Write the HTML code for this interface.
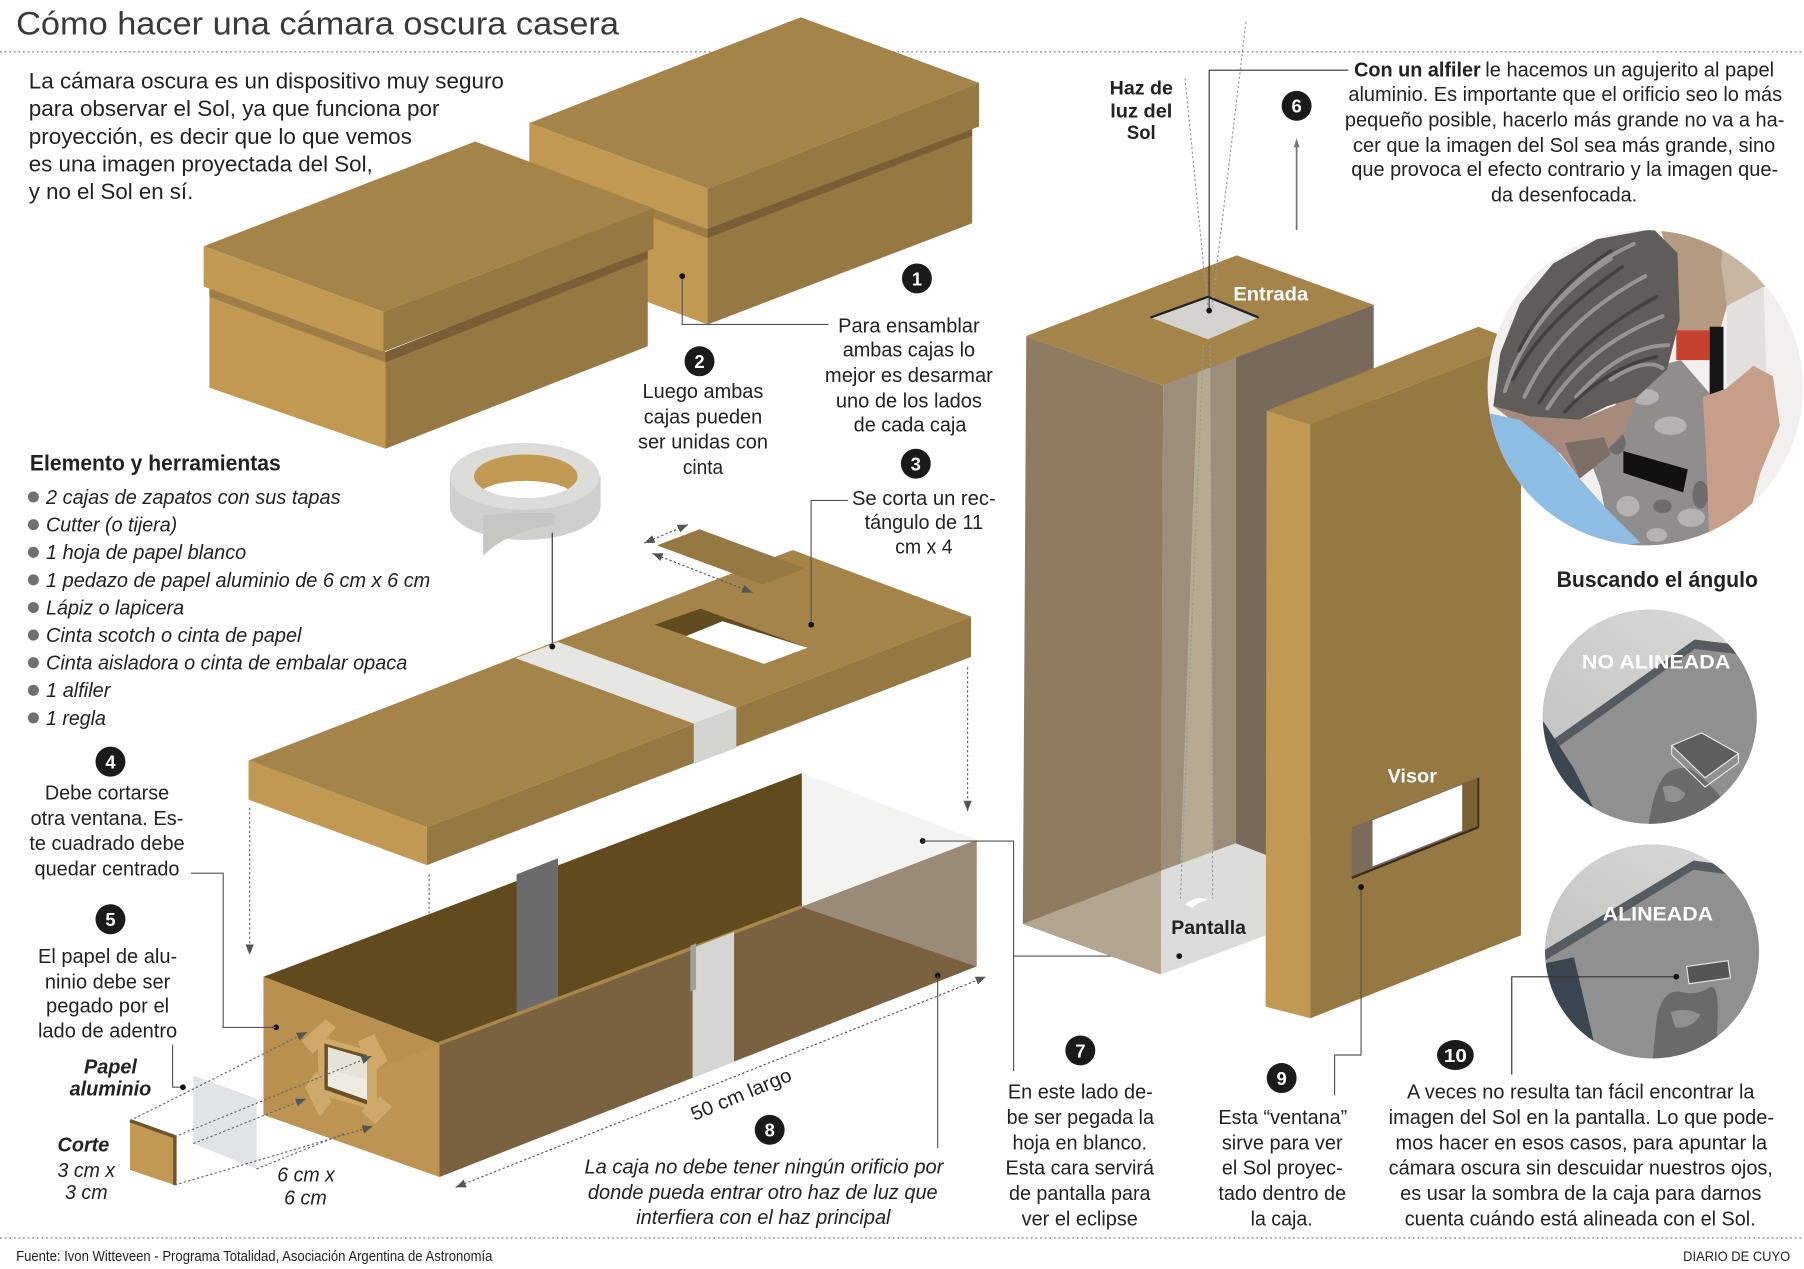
<!DOCTYPE html>
<html><head><meta charset="utf-8">
<style>
html,body{margin:0;padding:0;background:#fff;}
svg{display:block;}
text{font-family:"Liberation Sans",Arial,sans-serif;}
</style></head><body>
<svg width="1804" height="1269" viewBox="0 0 1568 1103" xmlns="http://www.w3.org/2000/svg">
<defs>
<marker id="ar" viewBox="0 0 10 10" refX="10" refY="5" markerWidth="9" markerHeight="9" markerUnits="userSpaceOnUse" orient="auto-start-reverse"><path d="M0,1 L10,5 L0,9 z" fill="#555"/></marker>
<clipPath id="cp1"><circle cx="1430" cy="337" r="137"/></clipPath>
<clipPath id="cp2"><circle cx="1434" cy="623" r="93"/></clipPath>
<clipPath id="cp3"><circle cx="1436" cy="827" r="93"/></clipPath>
<clipPath id="hole"><ellipse cx="457" cy="414" rx="45" ry="19"/></clipPath>
<linearGradient id="wall" x1="0" y1="1" x2="1" y2="0"><stop offset="0" stop-color="#c2c2c0"/><stop offset="1" stop-color="#dcdcda"/></linearGradient>
</defs>
<rect width="1568" height="1103" fill="#fff"/>

<!-- Title -->
<text x="14" y="30" font-size="28" fill="#3a3a3a" textLength="524" lengthAdjust="spacingAndGlyphs">Cómo hacer una cámara oscura casera</text>
<line x1="0" y1="45" x2="1568" y2="45" stroke="#888" stroke-width="1.2" stroke-dasharray="1.5,2.5"/>

<!-- Intro -->
<g font-size="19" fill="#222">
<text x="25" y="77" textLength="413" lengthAdjust="spacingAndGlyphs">La cámara oscura es un dispositivo muy seguro</text>
<text x="25" y="101" textLength="357" lengthAdjust="spacingAndGlyphs">para observar el Sol, ya que funciona por</text>
<text x="25" y="125" textLength="333" lengthAdjust="spacingAndGlyphs">proyección, es decir que lo que vemos</text>
<text x="25" y="149" textLength="299" lengthAdjust="spacingAndGlyphs">es una imagen proyectada del Sol,</text>
<text x="25" y="173" textLength="143" lengthAdjust="spacingAndGlyphs">y no el Sol en sí.</text>
</g>

<!-- Box 2 (back) -->
<polygon points="463,142 615,199 615,282 463,225" fill="#c29952"/>
<polygon points="463,142 615,199 615,207 463,150" fill="#a07d46"/>
<polygon points="615,199 845,110 845,194 615,282" fill="#967842"/>
<polygon points="615,198 845,110 845,118 615,207" fill="#7a5e36"/>
<polygon points="460,107 696,15 851,72 615,164" fill="#a5844a"/>
<polygon points="460,107 615,164 615,199 460,142" fill="#c29952"/>
<polygon points="615,164 851,72 851,110 615,199" fill="#967842"/>

<!-- Box 1 (front) -->
<polygon points="182,249 335,306 335,390 182,337" fill="#c29952"/>
<polygon points="182,249 335,306 335,315 182,258" fill="#a07d46"/>
<polygon points="335,306 563,216 563,301 335,390" fill="#967842"/>
<polygon points="335,306 563,216 563,225 335,315" fill="#7a5e36"/>
<polygon points="177,214 413,123 568,181 333,271" fill="#a5844a"/>
<polygon points="177,214 333,271 333,306 177,249" fill="#c29952"/>
<polygon points="333,271 568,181 568,216 333,306" fill="#967842"/>

<!-- leader 1/2 -->
<polyline points="593,240 593,282 720,282" fill="none" stroke="#555" stroke-width="1"/>
<circle cx="593" cy="240" r="2.5" fill="#111"/>

<!-- numbers -->
<g font-size="16" font-weight="bold" fill="#fff" text-anchor="middle">
<circle cx="797" cy="242" r="13" fill="#1a1a1a"/><text x="797" y="248">1</text>
<circle cx="608" cy="314" r="13" fill="#1a1a1a"/><text x="608" y="320">2</text>
<circle cx="796" cy="403" r="13" fill="#1a1a1a"/><text x="796" y="409">3</text>
<circle cx="96" cy="662" r="13" fill="#1a1a1a"/><text x="96" y="668">4</text>
<circle cx="96" cy="799" r="13" fill="#1a1a1a"/><text x="96" y="805">5</text>
<circle cx="1127" cy="92" r="13" fill="#1a1a1a"/><text x="1127" y="98">6</text>
<circle cx="939" cy="913" r="13" fill="#1a1a1a"/><text x="939" y="919">7</text>
<circle cx="669" cy="982" r="13" fill="#1a1a1a"/><text x="669" y="988">8</text>
<circle cx="1114" cy="937" r="13" fill="#1a1a1a"/><text x="1114" y="943">9</text>
<ellipse cx="1265" cy="917" rx="16" ry="13" fill="#1a1a1a"/><text x="1265" y="923" textLength="20" lengthAdjust="spacingAndGlyphs">10</text>
</g>

<!-- Text blocks 1,2,3 -->
<g font-size="17.5" fill="#222" text-anchor="middle">
<text x="790" y="289" textLength="123" lengthAdjust="spacingAndGlyphs">Para ensamblar</text>
<text x="790" y="310" textLength="115" lengthAdjust="spacingAndGlyphs">ambas cajas lo</text>
<text x="790" y="332" textLength="146" lengthAdjust="spacingAndGlyphs">mejor es desarmar</text>
<text x="790" y="354" textLength="127" lengthAdjust="spacingAndGlyphs">uno de los lados</text>
<text x="791" y="375" textLength="98" lengthAdjust="spacingAndGlyphs">de cada caja</text>
<text x="611" y="346" textLength="105" lengthAdjust="spacingAndGlyphs">Luego ambas</text>
<text x="611" y="368" textLength="103" lengthAdjust="spacingAndGlyphs">cajas pueden</text>
<text x="611" y="390" textLength="113" lengthAdjust="spacingAndGlyphs">ser unidas con</text>
<text x="611" y="412" textLength="35" lengthAdjust="spacingAndGlyphs">cinta</text>
<text x="803" y="439" textLength="125" lengthAdjust="spacingAndGlyphs">Se corta un rec-</text>
<text x="803" y="460" textLength="103" lengthAdjust="spacingAndGlyphs">tángulo de 11</text>
<text x="803" y="481" textLength="50" lengthAdjust="spacingAndGlyphs">cm x 4</text>
</g>

<!-- List -->
<text x="26" y="409" font-size="19" font-weight="bold" fill="#222" textLength="218" lengthAdjust="spacingAndGlyphs">Elemento y herramientas</text>
<g fill="#707070">
<circle cx="29" cy="432" r="4.8"/><circle cx="29" cy="456" r="4.8"/><circle cx="29" cy="480" r="4.8"/>
<circle cx="29" cy="504" r="4.8"/><circle cx="29" cy="528" r="4.8"/><circle cx="29" cy="552" r="4.8"/>
<circle cx="29" cy="576" r="4.8"/><circle cx="29" cy="600" r="4.8"/><circle cx="29" cy="624" r="4.8"/>
</g>
<g font-size="17.5" font-style="italic" fill="#222">
<text x="40" y="438" textLength="256" lengthAdjust="spacingAndGlyphs">2 cajas de zapatos con sus tapas</text>
<text x="40" y="462" textLength="114" lengthAdjust="spacingAndGlyphs">Cutter (o tijera)</text>
<text x="40" y="486" textLength="174" lengthAdjust="spacingAndGlyphs">1 hoja de papel blanco</text>
<text x="40" y="510" textLength="334" lengthAdjust="spacingAndGlyphs">1 pedazo de papel aluminio de 6 cm x 6 cm</text>
<text x="40" y="534" textLength="120" lengthAdjust="spacingAndGlyphs">Lápiz o lapicera</text>
<text x="40" y="558" textLength="222" lengthAdjust="spacingAndGlyphs">Cinta scotch o cinta de papel</text>
<text x="40" y="582" textLength="314" lengthAdjust="spacingAndGlyphs">Cinta aisladora o cinta de embalar opaca</text>
<text x="40" y="606" textLength="56" lengthAdjust="spacingAndGlyphs">1 alfiler</text>
<text x="40" y="630" textLength="52" lengthAdjust="spacingAndGlyphs">1 regla</text>
</g>

<!-- Tape roll -->
<path d="M391,414 L391,440 A65,29 0 0 0 522,440 L522,414 Z" fill="#cfcfcb"/>
<path d="M420,448 L420,483 Q440,462 482,456 L482,446 Q445,445 420,448 Z" fill="#c6c6c2"/>
<ellipse cx="456" cy="414" rx="65" ry="29" fill="#dcdcd9"/>
<ellipse cx="457" cy="414" rx="45" ry="19" fill="#c29952"/>
<g clip-path="url(#hole)"><ellipse cx="457" cy="430" rx="40" ry="12" fill="#fff"/></g>
<line x1="480" y1="463" x2="480" y2="562" stroke="#333" stroke-width="1"/>

<!-- Lid (flat) -->
<polygon points="216,661 689,478 844,536 371,719" fill="#a5844a"/>
<polygon points="216,661 371,719 371,752 216,695" fill="#c29952"/>
<polygon points="371,719 844,536 844,571 371,752" fill="#967842"/>
<polygon points="448,572 485,558 640,615 603,629" fill="#e6e6e3"/>
<polygon points="603,629 640,615 640,650 603,664" fill="#d3d3cf"/>
<polygon points="569,543 609,529 702,563 663,576" fill="#624b1e"/>
<polygon points="596,553 628,540 702,563 664,577" fill="#fff"/>
<polygon points="571,474 608,460 700,494 663,508" fill="#967842"/>
<circle cx="480" cy="562" r="2.5" fill="#111"/>
<!-- cut arrows -->
<line x1="560" y1="472" x2="598" y2="456" stroke="#555" stroke-width="1" stroke-dasharray="2,2" marker-start="url(#ar)" marker-end="url(#ar)"/>
<line x1="567" y1="481" x2="654" y2="515" stroke="#555" stroke-width="1" stroke-dasharray="2,2" marker-start="url(#ar)" marker-end="url(#ar)"/>
<!-- leader 3 -->
<polyline points="737,435 705,435 705,543" fill="none" stroke="#555" stroke-width="1"/>
<circle cx="705" cy="543" r="2.5" fill="#111"/>

<!-- vertical dotted arrows -->
<g stroke="#666" stroke-width="1" stroke-dasharray="2,2">
<line x1="217" y1="702" x2="217" y2="830" marker-end="url(#ar)"/>
<line x1="373" y1="760" x2="373" y2="886" marker-end="url(#ar)"/>
<line x1="841" y1="580" x2="841" y2="705" marker-end="url(#ar)"/>
</g>

<!-- Open box -->
<polygon points="229,849 697,672 697,788 382,907" fill="#614a1d"/>
<polygon points="449,760 485,746 485,868 449,882" fill="#6b6b6b"/>
<polygon points="697,672 849,730 697,788" fill="#f3f3ef"/>
<polygon points="697,788 849,730 849,840" fill="#9a8b78"/>
<polygon points="382,907 697,788 849,840 382,1023" fill="#7a6240"/>
<line x1="382" y1="907" x2="697" y2="788" stroke="#a8874a" stroke-width="3"/>
<polygon points="602,824 638,810 638,923 602,937" fill="#d5d5d1"/>
<polygon points="600,822 605,820 605,860 600,862" fill="#a09e98"/>
<polygon points="229,849 382,907 382,1023 229,969" fill="#bd9451"/>
<polygon points="229,849 382,907 229,969" fill="#b68d4d" opacity="0.6"/>
<g fill="#d3ad6f" opacity="0.85">
<polygon points="276,900 327,915 328,966 277,951"/>
<polygon points="262,905 283,886 292,893 272,916"/>
<polygon points="311,905 325,899 337,922 322,934"/>
<polygon points="265,945 275,931 288,958 278,971"/>
<polygon points="314,966 330,953 341,962 326,977"/>
</g>
<polygon points="282,907 319,917 319,960 282,947" fill="#6b5226"/>
<polygon points="285,910 319,920 319,956 285,944" fill="#e6e2d8"/>
<polygon points="285,930 319,938 319,956 285,944" fill="#eeebe3"/>
<circle cx="240" cy="893" r="2.5" fill="#111"/>
<circle cx="802" cy="731" r="2.5" fill="#111"/>
<circle cx="815" cy="848" r="2.5" fill="#111"/>
<line x1="815" y1="848" x2="815" y2="998" stroke="#555" stroke-width="1"/>
<polyline points="802,731 881,731 881,931" fill="none" stroke="#555" stroke-width="1"/>
<line x1="881" y1="831" x2="1025" y2="831" stroke="#555" stroke-width="1"/>

<!-- 50 cm -->
<line x1="396" y1="1032" x2="857" y2="849" stroke="#555" stroke-width="1" stroke-dasharray="2,2" marker-start="url(#ar)" marker-end="url(#ar)"/>
<text x="644" y="957" font-size="17" fill="#222" text-anchor="middle" transform="rotate(-22.5 644 951)" textLength="93" lengthAdjust="spacingAndGlyphs">50 cm largo</text>

<!-- leaders 4, 5 -->
<polyline points="166,759 194,759 194,893 240,893" fill="none" stroke="#555" stroke-width="1"/>
<polyline points="150,908 150,945 159,945" fill="none" stroke="#555" stroke-width="1"/>
<circle cx="159" cy="945" r="2.5" fill="#111"/>

<!-- Corte & aluminio -->
<polygon points="168,935 223,955 223,1016 168,994" fill="#dfe4e4"/>
<polygon points="113,974 152,988 152,1030 113,1017" fill="#c29952"/>
<polyline points="113,974 152,988 152,1030" fill="none" stroke="#6e5330" stroke-width="3"/>
<g stroke="#666" stroke-width="1" stroke-dasharray="2,2" fill="none">
<line x1="113" y1="974" x2="267" y2="897" marker-end="url(#ar)"/>
<line x1="152" y1="988" x2="323" y2="918" marker-end="url(#ar)"/>
<line x1="152" y1="1030" x2="324" y2="979" marker-end="url(#ar)"/>
<line x1="168" y1="994" x2="266" y2="955" marker-end="url(#ar)"/>
<line x1="223" y1="1016" x2="300" y2="985"/>
</g>

<!-- Text 4, 5 -->
<g font-size="17.5" fill="#222" text-anchor="middle">
<text x="93" y="695" textLength="108" lengthAdjust="spacingAndGlyphs">Debe cortarse</text>
<text x="93" y="717" textLength="133" lengthAdjust="spacingAndGlyphs">otra ventana. Es-</text>
<text x="93" y="739" textLength="135" lengthAdjust="spacingAndGlyphs">te cuadrado debe</text>
<text x="93" y="761" textLength="126" lengthAdjust="spacingAndGlyphs">quedar centrado</text>
<text x="93.5" y="837" textLength="121" lengthAdjust="spacingAndGlyphs">El papel de alu-</text>
<text x="93.5" y="859" textLength="109" lengthAdjust="spacingAndGlyphs">ninio debe ser</text>
<text x="93.5" y="880" textLength="107" lengthAdjust="spacingAndGlyphs">pegado por el</text>
<text x="93.5" y="902" textLength="121" lengthAdjust="spacingAndGlyphs">lado de adentro</text>
</g>
<g font-size="17.5" fill="#222" text-anchor="middle" font-style="italic">
<text x="96" y="933" font-weight="bold" textLength="46" lengthAdjust="spacingAndGlyphs">Papel</text>
<text x="96" y="952" font-weight="bold" textLength="71" lengthAdjust="spacingAndGlyphs">aluminio</text>
<text x="72.5" y="1001" font-weight="bold" textLength="45" lengthAdjust="spacingAndGlyphs">Corte</text>
<text x="75" y="1023" textLength="50" lengthAdjust="spacingAndGlyphs">3 cm x</text>
<text x="75" y="1042" textLength="37" lengthAdjust="spacingAndGlyphs">3 cm</text>
<text x="266" y="1027" textLength="50" lengthAdjust="spacingAndGlyphs">6 cm x</text>
<text x="265.5" y="1047" textLength="37" lengthAdjust="spacingAndGlyphs">6 cm</text>
<text x="664" y="1020" textLength="312" lengthAdjust="spacingAndGlyphs">La caja no debe tener ningún orificio por</text>
<text x="663" y="1042" textLength="304" lengthAdjust="spacingAndGlyphs">donde pueda entrar otro haz de luz que</text>
<text x="663.5" y="1064" textLength="221" lengthAdjust="spacingAndGlyphs">interfiera con el haz principal</text>
</g>

<!-- Tall box -->
<polygon points="892,292 1011,335 1009,847 889,803" fill="#8f7c60"/>
<polygon points="1074,310 1194,265 1194,700 1100,743 1074,733" fill="#786a5b"/>
<polygon points="1011,335 1074,310 1074,733 1009,757" fill="#9c8e7a"/>
<polygon points="1041,323 1052,318 1055,781 1025,781" fill="#b6aa93"/>
<polygon points="889,803 1009,757 1009,847" fill="#b3a690"/>
<polygon points="1009,757 1074,733 1100,743 1100,813 1009,847" fill="#dcdcda"/>
<path d="M1030,786 Q1040,778 1050,782 Q1042,784 1036,789 Z" fill="#fff"/>
<polygon points="892,292 1075,222 1194,265 1011,335" fill="#a5844a"/>
<polygon points="1000,276 1050,258 1094,276 1050,295" fill="#d3d2ce"/>
<polyline points="1000,276 1050,258 1094,276" fill="none" stroke="#222" stroke-width="2"/>
<g stroke="#999" stroke-width="1" stroke-dasharray="2,2" fill="none">
<line x1="1030" y1="68" x2="1050" y2="270"/>
<line x1="1083" y1="19" x2="1053" y2="270"/>
<line x1="1046" y1="300" x2="1026" y2="781"/>
<line x1="1052" y1="300" x2="1054" y2="781"/>
</g>
<text x="1104.5" y="261" font-size="17" font-weight="bold" fill="#fff" text-anchor="middle" textLength="65" lengthAdjust="spacingAndGlyphs">Entrada</text>
<text x="1050.5" y="812" font-size="17" font-weight="bold" fill="#222" text-anchor="middle" textLength="65" lengthAdjust="spacingAndGlyphs">Pantalla</text>
<circle cx="1025" cy="831" r="2.5" fill="#111"/>
<!-- leader 6 -->
<polyline points="1051,270 1051,61 1172,61" fill="none" stroke="#333" stroke-width="1"/>
<circle cx="1051" cy="270" r="2.5" fill="#111"/>
<!-- pin -->
<line x1="1127" y1="126" x2="1127" y2="200" stroke="#777" stroke-width="1.5"/>
<polygon points="1124.5,128 1127,120 1129.5,128" fill="#777"/>

<!-- Visor panel -->
<polygon points="1101,357 1139,369 1139,885 1100,875" fill="#c29952"/>
<polygon points="1139,369 1322,298 1322,813 1139,885" fill="#967842"/>
<polygon points="1101,357 1285,284 1322,298 1139,369" fill="#a5844a"/>
<polygon points="1175,719 1285,676 1285,719 1175,763" fill="#7b6b5a"/>
<polygon points="1193,713 1271,682 1271,722 1193,753" fill="#fff"/>
<polygon points="1271,681 1285,676 1285,719 1271,723" fill="#7a6032"/>
<line x1="1175" y1="763" x2="1285" y2="719" stroke="#3a2e1a" stroke-width="2"/>
<line x1="1285" y1="676" x2="1285" y2="719" stroke="#3a2e1a" stroke-width="1.5"/>
<text x="1227.5" y="680" font-size="17" font-weight="bold" fill="#fff" text-anchor="middle" textLength="43" lengthAdjust="spacingAndGlyphs">Visor</text>
<polyline points="1183,771 1183,917 1160,917 1160,952" fill="none" stroke="#555" stroke-width="1"/>
<circle cx="1183" cy="771" r="2.5" fill="#111"/>

<!-- Haz de luz -->
<g font-size="17" font-weight="bold" fill="#222" text-anchor="middle">
<text x="992" y="82" textLength="55" lengthAdjust="spacingAndGlyphs">Haz de</text>
<text x="992" y="102" textLength="54" lengthAdjust="spacingAndGlyphs">luz del</text>
<text x="992" y="121" textLength="25" lengthAdjust="spacingAndGlyphs">Sol</text>
</g>

<!-- Text 6 -->
<g font-size="17.5" fill="#222">
<text x="1177" y="66.5" font-weight="bold" textLength="110" lengthAdjust="spacingAndGlyphs">Con un alfiler</text>
<text x="1291" y="66.5" textLength="251" lengthAdjust="spacingAndGlyphs">le hacemos un agujerito al papel</text>
<g text-anchor="middle">
<text x="1360.5" y="88" textLength="377" lengthAdjust="spacingAndGlyphs">aluminio. Es importante que el orificio seo lo más</text>
<text x="1360" y="110" textLength="382" lengthAdjust="spacingAndGlyphs">pequeño posible, hacerlo más grande no va a ha-</text>
<text x="1359.5" y="132" textLength="367" lengthAdjust="spacingAndGlyphs">cer que la imagen del Sol sea más grande, sino</text>
<text x="1360" y="153" textLength="371" lengthAdjust="spacingAndGlyphs">que provoca el efecto contrario y la imagen que-</text>
<text x="1359.5" y="175" textLength="127" lengthAdjust="spacingAndGlyphs">da desenfocada.</text>
</g>
</g>

<!-- Photo man -->
<g clip-path="url(#cp1)">
<rect x="1290" y="195" width="280" height="285" fill="#f1f0ee"/>
<polygon points="1443,198 1500,206 1534,249 1501,266 1495,287 1458,287 1455,235" fill="#b39a80"/>
<polygon points="1498,206 1534,249 1501,266 1496,230" fill="#c9b6a1"/>
<polygon points="1501,266 1533,249 1536,353 1501,365" fill="#e2e0dd"/>
<polygon points="1417,324 1461,313 1486,342 1490,478 1402,478 1391,423 1382,400" fill="#8f8e8c"/>
<g fill="#b4b3b1">
<ellipse cx="1430" cy="345" rx="12" ry="7"/><ellipse cx="1452" cy="370" rx="14" ry="8"/>
<ellipse cx="1415" cy="440" rx="10" ry="9"/><ellipse cx="1470" cy="450" rx="12" ry="8"/>
<ellipse cx="1440" cy="465" rx="9" ry="6"/>
</g>
<g fill="#6d6c6a">
<ellipse cx="1405" cy="385" rx="8" ry="10"/><ellipse cx="1478" cy="430" rx="7" ry="12"/>
<ellipse cx="1445" cy="440" rx="8" ry="6"/>
</g>
<rect x="1457" y="287" width="29" height="26" fill="#c8412f"/>
<rect x="1486" y="284" width="12" height="64" fill="#161616"/>
<polygon points="1298,353 1330,362 1373,365 1397,355 1423,345 1411,377 1394,394 1373,416 1356,394 1330,377" fill="#a88a7c"/>
<polygon points="1360,385 1394,380 1400,395 1373,416" fill="#7d6e66"/>
<polygon points="1298,353 1304,307 1321,264 1350,229 1388,208 1437,199 1458,220 1460,278 1449,321 1423,345 1397,353 1373,365 1330,362" fill="#5f5c59"/>
<g fill="none" stroke-linecap="round">
<g stroke="#a9a6a3" stroke-width="3.5" opacity="0.75">
<path d="M1308,340 Q1330,270 1400,225"/>
<path d="M1325,345 Q1355,280 1430,240"/>
<path d="M1345,355 Q1380,300 1445,275"/>
<path d="M1370,345 Q1410,300 1450,300"/>
<path d="M1330,290 Q1360,240 1420,212"/>
<path d="M1400,330 Q1430,310 1445,320"/>
</g>
<g stroke="#3d3a38" stroke-width="3" opacity="0.8">
<path d="M1315,330 Q1340,280 1410,232"/>
<path d="M1338,350 Q1370,295 1440,258"/>
<path d="M1360,358 Q1395,320 1440,310"/>
<path d="M1320,305 Q1345,255 1400,218"/>
</g>
</g>
<polygon points="1293,359 1321,365 1350,388 1373,416 1397,443 1426,472 1344,480 1310,437 1290,400" fill="#8dbde3"/>
<polygon points="1480,345 1500,338 1524,318 1541,327 1547,370 1530,411 1512,480 1486,480 1483,394" fill="#c79f88"/>
<polygon points="1411,392 1467,408 1463,428 1411,411" fill="#111"/>
</g>

<!-- Buscando el angulo -->
<text x="1440.5" y="510" font-size="19" font-weight="bold" fill="#222" text-anchor="middle" textLength="175" lengthAdjust="spacingAndGlyphs">Buscando el ángulo</text>

<g clip-path="url(#cp2)">
<rect x="1338" y="526" width="194" height="194" fill="#8f908f"/>
<polygon points="1330,520 1540,520 1540,564 1473,556 1354,640 1330,656" fill="url(#wall)"/>
<polygon points="1330,656 1354,640 1473,556 1540,564 1540,572 1473,564 1356,648 1330,664" fill="#555b60"/>
<polygon points="1338,622 1350,640 1368,668 1384,700 1390,720 1338,720" fill="#3c4650"/>
<path fill-rule="evenodd" fill="#6a6a69" d="M1432,720 L1436,700 Q1442,675 1452,670 Q1466,664 1474,672 Q1488,682 1497,695 L1497,720 Z M1445,684 Q1455,680 1465,690 Q1460,700 1448,696 Z"/>
<polygon points="1453,648 1479,637 1511,655 1482,676" fill="#5e5e5e" stroke="#e6e6e6" stroke-width="1"/>
<polyline points="1453,648 1453,656 1482,684 1511,663 1511,655" fill="none" stroke="#e6e6e6" stroke-width="1"/>
</g>
<text x="1439.5" y="581" font-size="17" font-weight="bold" fill="#fff" text-anchor="middle" textLength="129" lengthAdjust="spacingAndGlyphs">NO ALINEADA</text>

<g clip-path="url(#cp3)">
<rect x="1340" y="732" width="194" height="194" fill="#8f908f"/>
<polygon points="1330,720 1540,720 1540,757 1472,748 1344,825 1330,835" fill="url(#wall)"/>
<polygon points="1330,835 1344,825 1472,748 1540,757 1540,765 1472,756 1346,833 1330,843" fill="#555b60"/>
<polygon points="1340,838 1368,832 1390,925 1340,925" fill="#3c4650"/>
<path fill-rule="evenodd" fill="#6a6a69" d="M1436,925 L1440,885 Q1445,860 1460,862 Q1475,866 1486,858 Q1494,855 1493,885 L1491,925 Z M1452,880 Q1465,875 1478,882 Q1470,895 1456,893 Z"/>
<polygon points="1466,840 1502,835 1504,850 1468,855" fill="#555" stroke="#e6e6e6" stroke-width="1"/>
</g>
<text x="1441" y="800" font-size="17" font-weight="bold" fill="#fff" text-anchor="middle" textLength="96" lengthAdjust="spacingAndGlyphs">ALINEADA</text>
<polyline points="1457,849 1314,849 1314,934" fill="none" stroke="#333" stroke-width="1"/>
<circle cx="1457" cy="849" r="2.5" fill="#111"/>

<!-- Text 7, 9, 10 -->
<g font-size="17.5" fill="#222" text-anchor="middle">
<text x="939" y="955" textLength="126" lengthAdjust="spacingAndGlyphs">En este lado de-</text>
<text x="939" y="977" textLength="128" lengthAdjust="spacingAndGlyphs">be ser pegada la</text>
<text x="938.5" y="999" textLength="117" lengthAdjust="spacingAndGlyphs">hoja en blanco.</text>
<text x="938.5" y="1021" textLength="129" lengthAdjust="spacingAndGlyphs">Esta cara servirá</text>
<text x="938.5" y="1043" textLength="123" lengthAdjust="spacingAndGlyphs">de pantalla para</text>
<text x="938.5" y="1065" textLength="101" lengthAdjust="spacingAndGlyphs">ver el eclipse</text>
<text x="1115" y="977" textLength="112" lengthAdjust="spacingAndGlyphs">Esta “ventana”</text>
<text x="1114.5" y="999" textLength="105" lengthAdjust="spacingAndGlyphs">sirve para ver</text>
<text x="1114.5" y="1021" textLength="105" lengthAdjust="spacingAndGlyphs">el Sol proyec-</text>
<text x="1114.5" y="1043" textLength="111" lengthAdjust="spacingAndGlyphs">tado dentro de</text>
<text x="1114" y="1065" textLength="54" lengthAdjust="spacingAndGlyphs">la caja.</text>
<text x="1374" y="955" textLength="302" lengthAdjust="spacingAndGlyphs">A veces no resulta tan fácil encontrar la</text>
<text x="1374.5" y="977" textLength="335" lengthAdjust="spacingAndGlyphs">imagen del Sol en la pantalla. Lo que pode-</text>
<text x="1374.5" y="999" textLength="323" lengthAdjust="spacingAndGlyphs">mos hacer en esos casos, para apuntar la</text>
<text x="1374" y="1021" textLength="334" lengthAdjust="spacingAndGlyphs">cámara oscura sin descuidar nuestros ojos,</text>
<text x="1374" y="1043" textLength="314" lengthAdjust="spacingAndGlyphs">es usar la sombra de la caja para darnos</text>
<text x="1373.5" y="1065" textLength="305" lengthAdjust="spacingAndGlyphs">cuenta cuándo está alineada con el Sol.</text>
</g>

<!-- Footer -->
<line x1="0" y1="1076" x2="1568" y2="1076" stroke="#888" stroke-width="1.2" stroke-dasharray="1.5,2.5"/>
<text x="14" y="1096" font-size="12.5" fill="#222" textLength="414" lengthAdjust="spacingAndGlyphs">Fuente: Ivon Witteveen  - Programa Totalidad, Asociación Argentina de Astronomía</text>
<text x="1556" y="1096" font-size="12" fill="#222" text-anchor="end" textLength="93" lengthAdjust="spacingAndGlyphs">DIARIO DE CUYO</text>
</svg>
</body></html>
